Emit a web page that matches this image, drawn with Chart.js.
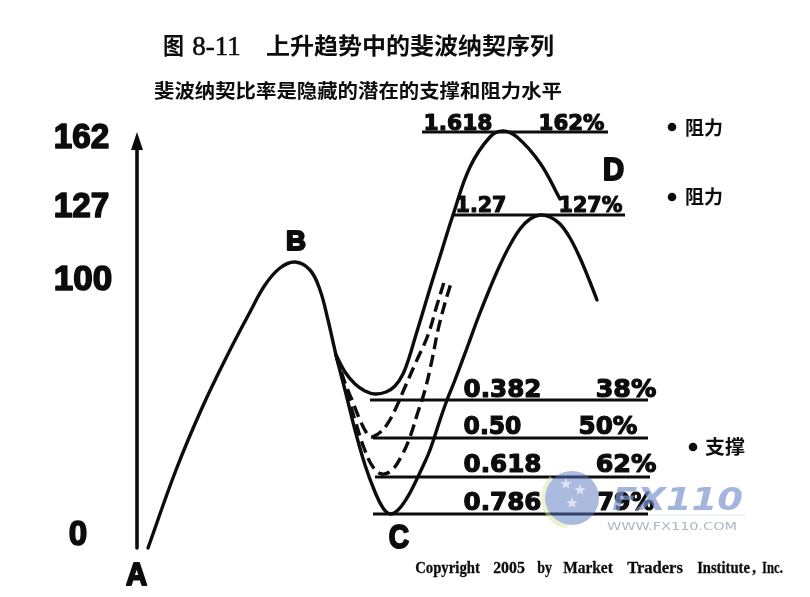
<!DOCTYPE html>
<html><head><meta charset="utf-8">
<script src="https://cdn.jsdelivr.net/npm/chart.js@4.4.1/dist/chart.umd.min.js"></script>
<style>html,body{margin:0;padding:0;background:#fff;}#wrap{width:810px;height:597px;}</style>
</head><body><div id="wrap"><canvas id="c" width="810" height="597"></canvas></div>
<script>
// ---- diagram data (diagram units: x to the right, y downward) ----
const pathX = [148,176,202,228,250,265,280,295,310,320,328,336,345,355,365,375,383,390,398,407,415,423,430,440,447,455,467,478,490,500,510,520,530,540,550,560,570,580,590,597];
const pathY = [548,470,408,354,312,285,268,262,270,290,320,355,390,430,465,492,508,514,510,498,483,466,450,420,400,380,348,318,288,265,245,229,219,215,217,224,238,258,282,300];
const ext162X = [336,345,355,365,375,386,395,403,409,415,422,431,442,453,470,490,503,517,540,560];
const ext162Y = [355,372,384,391,394,392,386,374,358,338,315,285,250,215,167,137,131,137,163,199];
const dash50X = [336,345,352,360,366,371,378,386,395,405,416,428,437,445];
const dash50Y = [355,383,400,420,432,437,434,426,410,387,362,335,305,279];
const dash62X = [336,345,355,364,373,382,392,402,410,417,425,432,438,445,452];
const dash62Y = [355,387,420,448,467,474,470,455,437,415,390,360,330,303,280];
const axisX = [137,137];
const axisY = [548,142];

const ratioLabels = ['1.618','1.27','0.382','0.50','0.618','0.786'];
const pctLabels   = ['162%','127%','38%','50%','62%','79%'];
const levelY  = [132,215,400,438,477,514];
const levelX0 = [422,453,370,373,375,373];
const levelX1 = [608,625,648,648,650,648];

const tickLabels = ['162','127','100','0'];
const pointLabels = ['A','B','C','D'];
const sideLabels = ['阻力','阻力','支撑'];
const titleText = '上升趋势中的斐波纳契序列';
const subtitleText = '斐波纳契比率是隐藏的潜在的支撑和阻力水平';
const copyrightWords = ['Copyright','2005','by','Market','Traders','Institute',',','Inc.'];

const zip = (xs, ys) => xs.map((x, i) => ({x, y: ys[i]}));
const INK = '#0d0d0d';
const curve = (data, dash) => ({data, borderColor: INK, borderWidth: 3.4, pointRadius: 0, tension: 0.4,
  borderDash: dash || [], borderCapStyle: dash ? 'butt' : 'round', borderJoinStyle: 'round', fill: false, clip: false});

const datasets = [
  curve(zip(axisX, axisY)),
  curve(zip(pathX, pathY)),
  curve(zip(ext162X, ext162Y)),
  curve(zip(dash50X, dash50Y), [12, 6]),
  curve(zip(dash62X, dash62Y), [12, 6]),
];
datasets[0].borderWidth = 3.6;
levelY.forEach((y, i) => {
  const d = curve([{x: levelX0[i], y}, {x: levelX1[i], y}]);
  d.tension = 0; d.borderWidth = 3.2; d.borderCapStyle = 'butt';
  datasets.push(d);
});

function fitText(ctx, str, x0, x1, y, font, baseline, color, heavy) {
  ctx.save();
  ctx.font = font;
  ctx.fillStyle = color || INK;
  ctx.strokeStyle = color || INK;
  ctx.textAlign = 'left';
  ctx.textBaseline = baseline || 'alphabetic';
  ctx.lineJoin = 'round';
  const w = ctx.measureText(str).width + (heavy || 0);
  const sx = (x1 - x0) / w;
  ctx.translate(x0 + (heavy || 0) * sx / 2, y);
  ctx.scale(sx, 1);
  ctx.fillText(str, 0, 0);
  if (heavy) { ctx.lineWidth = heavy; ctx.strokeText(str, 0, 0); }
  ctx.restore();
}

const annot = {
  id: 'annot',
  afterDatasetsDraw(chart) {
    const ctx = chart.ctx, xs = chart.scales.x, ys = chart.scales.y;
    const X = v => xs.getPixelForValue(v), Y = v => ys.getPixelForValue(v);
    const CJK = '"Noto Sans CJK SC"';
    // arrow head
    ctx.save(); ctx.fillStyle = INK; ctx.beginPath();
    ctx.moveTo(X(137), Y(132)); ctx.lineTo(X(131), Y(150)); ctx.lineTo(X(143), Y(150)); ctx.closePath(); ctx.fill(); ctx.restore();
    // titles
    fitText(ctx, '图', X(163), X(184), Y(45), '700 23px ' + CJK, 'middle');
    fitText(ctx, '8-11', X(192), X(241), Y(55), '400 27px "Liberation Serif"', 'alphabetic', INK, 0.6);
    fitText(ctx, titleText, X(266), X(554), Y(45), '700 23px ' + CJK, 'middle');
    fitText(ctx, subtitleText, X(154), X(562), Y(91), '700 19px ' + CJK, 'middle');
    // axis numbers
    const tickB = [148, 217, 290, 545], tickL = [53, 53, 53, 68], tickR = [110, 110, 113, 88];
    tickLabels.forEach((t, i) => fitText(ctx, t, X(tickL[i]), X(tickR[i]), Y(tickB[i]), '700 35px "Liberation Sans"', 'alphabetic', INK, 1.6));
    // point letters
    const pl = [125, 285, 388, 602], pr = [148, 307, 410, 625], pb = [585, 250, 548, 180], ps = [32, 27, 33, 31];
    pointLabels.forEach((t, i) => fitText(ctx, t, X(pl[i]), X(pr[i]), Y(pb[i]), '700 ' + ps[i] + 'px "Liberation Sans"', 'alphabetic', INK, 2));
    // ratio labels
    const rl = [423, 455, 463, 463, 463, 463], rr = [493, 507, 542, 522, 542, 542];
    const ql = [538, 558, 595, 578, 595, 597], qr = [605, 623, 657, 638, 657, 655];
    const rb = [130, 212, 397, 434, 472, 510], rs = [22, 22, 24, 24, 24, 24];
    ratioLabels.forEach((t, i) => {
      const f = '700 ' + rs[i] + 'px "DejaVu Sans"';
      fitText(ctx, t, X(rl[i]), X(rr[i]), Y(rb[i]), f, 'alphabetic', INK, 1.2);
      fitText(ctx, pctLabels[i], X(ql[i]), X(qr[i]), Y(rb[i]), f, 'alphabetic', INK, 1.2);
    });
    // side notes
    const bx = [672, 672, 693], by = [127, 197, 447], tl = [685, 685, 705], tr = [723, 723, 745], ty = [128, 197, 447];
    sideLabels.forEach((t, i) => {
      ctx.save(); ctx.fillStyle = INK; ctx.beginPath(); ctx.arc(X(bx[i]), Y(by[i]), 4.3, 0, Math.PI * 2); ctx.fill(); ctx.restore();
      fitText(ctx, t, X(tl[i]), X(tr[i]), Y(ty[i]), '700 19px ' + CJK, 'middle');
    });
    // copyright
    const cl = [415, 493, 537, 563, 627, 697, 752, 762], cr = [480, 525, 552, 613, 683, 750, 756, 783];
    copyrightWords.forEach((w, i) => fitText(ctx, w, X(cl[i]), X(cr[i]), Y(573), '700 16px "Liberation Serif"', 'alphabetic', INK, 0.3));
    // watermark
    ctx.save();
    ctx.globalAlpha = 0.5;
    ctx.fillStyle = '#5577c0';
    ctx.beginPath(); ctx.arc(X(572), Y(498), 27, 0, Math.PI * 2); ctx.fill();
    ctx.strokeStyle = '#d9e6a0'; ctx.lineWidth = 4;
    ctx.beginPath(); ctx.arc(X(572), Y(498), 29, Math.PI * 0.55, Math.PI * 1.25); ctx.stroke();
    ctx.globalAlpha = 0.6;
    ctx.fillStyle = '#ffffff';
    [[566,484],[580,490],[572,503]].forEach(p => {
      ctx.beginPath();
      for (let k = 0; k < 10; k++) {
        const r = k % 2 ? 2.5 : 6, a = -Math.PI / 2 + k * Math.PI / 5;
        const px = X(p[0]) + r * Math.cos(a), py = Y(p[1]) + r * Math.sin(a);
        k ? ctx.lineTo(px, py) : ctx.moveTo(px, py);
      }
      ctx.closePath(); ctx.fill();
    });
    ctx.globalAlpha = 0.7;
    fitText(ctx, 'FX110', X(612), X(743), Y(510), 'italic 700 32px "DejaVu Sans"', 'alphabetic', '#7d96cf');
    fitText(ctx, 'WWW.FX110.COM', X(607), X(737), Y(530), '11px "DejaVu Sans"', 'alphabetic', '#8d97aa');
    ctx.globalAlpha = 0.3; ctx.strokeStyle = '#9aa3b5'; ctx.lineWidth = 1;
    ctx.beginPath(); ctx.moveTo(X(648), Y(515)); ctx.lineTo(X(745), Y(515)); ctx.stroke();
    ctx.restore();
  }
};

new Chart(document.getElementById('c'), {
  type: 'line',
  data: {datasets},
  options: {
    responsive: false, animation: false, devicePixelRatio: 1,
    layout: {padding: 0},
    plugins: {legend: {display: false}, tooltip: {enabled: false}},
    scales: {
      x: {type: 'linear', min: 0, max: 810, display: false},
      y: {type: 'linear', min: 0, max: 597, reverse: true, display: false}
    }
  },
  plugins: [annot]
});
</script></body></html>
